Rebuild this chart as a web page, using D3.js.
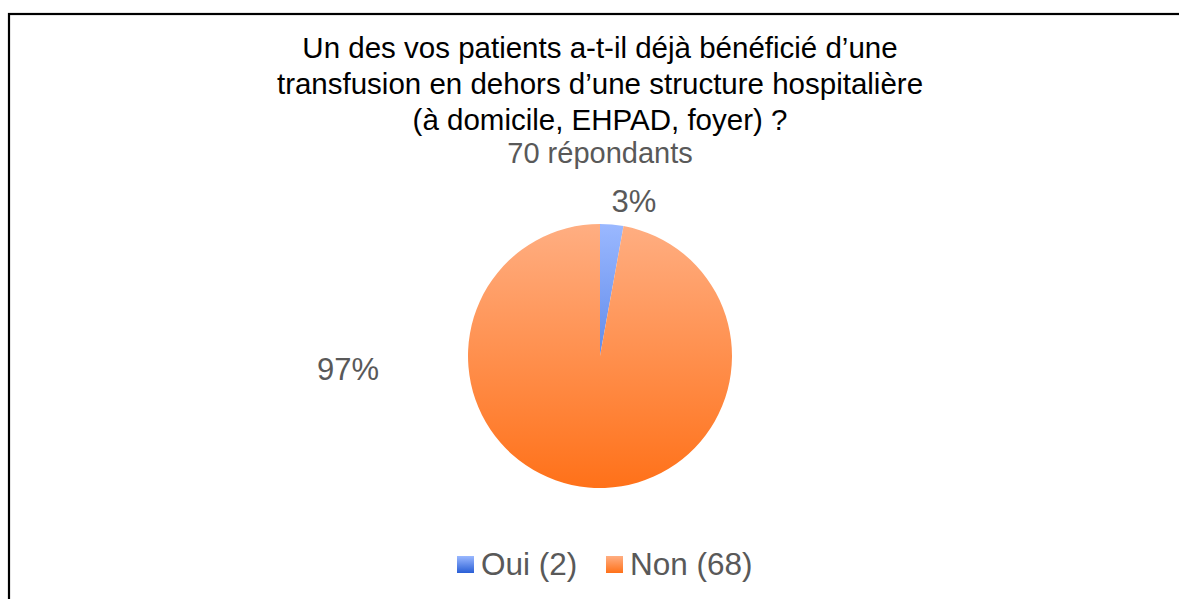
<!DOCTYPE html>
<html>
<head>
<meta charset="utf-8">
<script src="https://cdn.jsdelivr.net/npm/d3@7"></script>
<style>
  body { margin: 0; background: #fff; }
  svg { display: block; }
</style>
</head>
<body>
<div class="chart"></div>
<script>
var categories = ["Oui (2)", "Non (68)"]
var counts = [2, 68]
var pctLabels = ["3%", "97%"]
var titleLines = ["Un des vos patients a-t-il déjà bénéficié d’une",
                  "transfusion en dehors d’une structure hospitalière",
                  "(à domicile, EHPAD, foyer) ?"]
var subtitle = "70 répondants"

var W = 1179, H = 599
var svg = d3.select(".chart")
    .append("svg")
    .attr("width", W)
    .attr("height", H)

var defs = svg.append("defs")
// gradients top light -> bottom dark
var grads = [["gBlue", "#9ab8ff", "#2a5fd6"], ["gOrange", "#ffae82", "#ff7119"]]
grads.forEach(g => {
  var lg = defs.append("linearGradient")
      .attr("id", g[0])
      .attr("x1", 0).attr("y1", 0).attr("x2", 0).attr("y2", 1)
  lg.append("stop").attr("offset", "0%").attr("stop-color", g[1])
  lg.append("stop").attr("offset", "100%").attr("stop-color", g[2])
})
var pieGrads = [["pBlue", "#9ab8ff", "#2a5fd6"], ["pOrange", "#ffae82", "#ff7119"]]
pieGrads.forEach(g => {
  var lg = defs.append("linearGradient")
      .attr("id", g[0])
      .attr("gradientUnits", "userSpaceOnUse")
      .attr("x1", 0).attr("y1", -132).attr("x2", 0).attr("y2", 132)
  lg.append("stop").attr("offset", "0%").attr("stop-color", g[1])
  lg.append("stop").attr("offset", "100%").attr("stop-color", g[2])
})

// frame
svg.append("rect")
    .attr("x", 9)
    .attr("y", 14)
    .attr("width", W + 20)
    .attr("height", H + 20)
    .style("fill", "none")
    .style("stroke", "black")
    .style("stroke-width", 2.2)

// title
var title = svg.append("text")
    .attr("text-anchor", "middle")
    .attr("font-family", "Liberation Sans, Arial, sans-serif")
    .style("font-size", "29.5px")
    .attr("fill", "#000")
titleLines.forEach((t, i) => {
  title.append("tspan")
      .attr("x", 600)
      .attr("y", 58 + i * 36)
      .text(t)
})
svg.append("text")
    .attr("x", 600)
    .attr("y", 163)
    .attr("text-anchor", "middle")
    .attr("font-family", "Liberation Sans, Arial, sans-serif")
    .style("font-size", "29px")
    .attr("fill", "#595959")
    .text(subtitle)

// pie
var cx = 600, cy = 356, r = 132
var pie = d3.pie().sort(null).value(d => d)
var arc = d3.arc().innerRadius(0).outerRadius(r)
var g = svg.append("g").attr("transform", "translate(" + cx + "," + cy + ")")
var fills = ["url(#pBlue)", "url(#pOrange)"]
var arcs = pie(counts)
g.selectAll("path")
    .data(arcs)
    .enter()
    .append("path")
    .attr("d", arc)
    .style("fill", (d, i) => fills[i])

// percent labels, outside
var labelPos = [[34, -155], [-252, 13]]
arcs.forEach((d, i) => {
  svg.append("text")
      .attr("x", cx + labelPos[i][0])
      .attr("y", cy + labelPos[i][1])
      .attr("text-anchor", "middle")
      .attr("dominant-baseline", "central")
      .attr("font-family", "Liberation Sans, Arial, sans-serif")
      .style("font-size", "31px")
      .attr("fill", "#595959")
      .text(pctLabels[i])
})

// legend
var legendX = [457, 606]
var legendFills = ["url(#gBlue)", "url(#gOrange)"]
categories.forEach((c, i) => {
  svg.append("rect")
      .attr("x", legendX[i])
      .attr("y", 556)
      .attr("width", 17)
      .attr("height", 17)
      .style("fill", legendFills[i])
  svg.append("text")
      .attr("x", legendX[i] + 24)
      .attr("y", 575)
      .attr("font-family", "Liberation Sans, Arial, sans-serif")
      .style("font-size", "31.5px")
      .attr("fill", "#595959")
      .text(c)
})
</script>
</body>
</html>
